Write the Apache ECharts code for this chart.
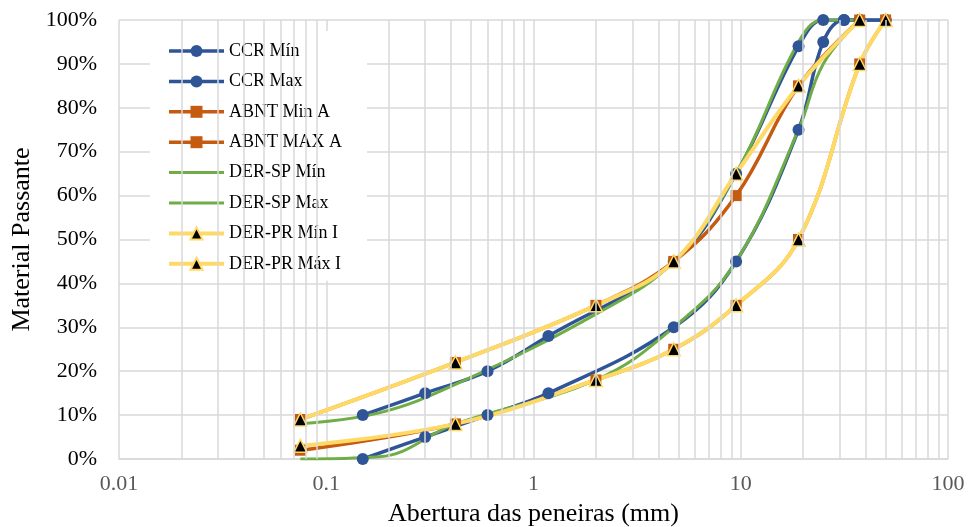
<!DOCTYPE html>
<html>
<head>
<meta charset="utf-8">
<script src="https://cdn.jsdelivr.net/npm/echarts@6/dist/echarts.min.js"></script>
<style>
  html, body { margin: 0; padding: 0; background: #fff; }
  #chart { width: 968px; height: 527px; }
</style>
</head>
<body>
<div id="chart"></div>
<script>
// aberturas das peneiras (mm) e % passante
var ccrSieves = [0.15, 0.3, 0.6, 1.18, 4.75, 9.5, 19, 25, 31.5, 37.5, 50];
var ccrMin = [0, 5, 10, 15, 30, 45, 75, 95, 100, 100, 100];
var ccrMax = [10, 15, 20, 28, 45, 65, 94, 100, 100, 100, 100];

var abntSieves = [0.075, 0.42, 2, 4.75, 9.5, 19, 37.5, 50];
var abntMin = [2, 8, 18, 25, 35, 50, 90, 100];
var abntMax = [9, 22, 35, 45, 60, 85, 100];

var derSpSieves = [0.075, 0.18, 0.42, 2, 4.75, 9.5, 19, 25, 37.5];
var derSpMin = [0, 0.5, 8, 18, 30, 45, 75, 90, 100];
var derSpMax = [8, 10.5, 17, 33, 45, 65, 95, 100, 100];

var derPrSieves = [0.075, 0.42, 2, 4.75, 9.5, 19, 37.5, 50];
var derPrMin = [3, 8, 18, 25, 35, 50, 90, 100];
var derPrMax = [9, 22, 35, 45, 65, 85, 100];

var yTicks = [0, 10, 20, 30, 40, 50, 60, 70, 80, 90, 100];

var blue = '#2F5597', orange = '#C55A11', green = '#70AD47', yellow = '#FFD966';
var gridColor = '#d9d9d9';
var serif = 'Liberation Serif, Times New Roman, serif';

function pairs(xs, ys) {
  var out = [];
  for (var i = 0; i < ys.length; i++) out.push([xs[i], ys[i]]);
  return out;
}

// linhas de grade secundárias (2..9 de cada década)
var minorLines = [];
[0.01, 0.1, 1, 10].forEach(function (d) {
  for (var k = 2; k <= 9; k++) minorLines.push({ xAxis: +(k * d).toPrecision(3) });
});

function lineSeries(name, xs, ys, color, width, symbol, size, extra) {
  var s = {
    name: name,
    type: 'line',
    data: pairs(xs, ys),
    smooth: 0.4,
    symbol: symbol,
    symbolSize: size,
    lineStyle: { color: color, width: width },
    itemStyle: { color: color },
    z: 2
  };
  if (extra) for (var k in extra) s[k] = extra[k];
  return s;
}

var triStyle = { color: '#000', borderColor: yellow, borderWidth: 1.5 };

// itens da legenda (DER-SP sem marcador)
var legendItems = [
  { name: 'CCR Mín', lineStyle: { width: 3.5 } },
  { name: 'CCR Max', lineStyle: { width: 3.5 } },
  { name: 'ABNT Min A', lineStyle: { width: 3.5 } },
  { name: 'ABNT MAX A', lineStyle: { width: 3.5 } },
  { name: 'DER-SP Mín', lineStyle: { width: 3 }, itemStyle: { opacity: 0 } },
  { name: 'DER-SP Max', lineStyle: { width: 3 }, itemStyle: { opacity: 0 } },
  { name: 'DER-PR Mín I', lineStyle: { width: 4 } },
  { name: 'DER-PR Máx I', lineStyle: { width: 4 } }
];

var myChart = echarts.init(document.getElementById('chart'));
var option = {
  animation: false,
  backgroundColor: '#fff',
  grid: { left: 119, right: 20, top: 20, bottom: 68, outerBoundsMode: 'none', containLabel: false },
  legend: {
    data: legendItems,
    orient: 'vertical',
    left: 150,
    top: 31,
    padding: [11, 25, 8, 17],
    backgroundColor: '#fff',
    itemWidth: 55,
    itemHeight: 15,
    itemGap: 12.4,
    textStyle: { fontFamily: serif, fontSize: 18, color: '#000' }
  },
  xAxis: {
    type: 'log',
    logBase: 10,
    min: 0.01,
    max: 100,
    name: 'Abertura das peneiras (mm)',
    nameLocation: 'middle',
    nameGap: 42,
    nameTextStyle: { fontFamily: serif, fontSize: 26, color: '#000' },
    axisLine: { show: true, lineStyle: { color: gridColor, width: 1.5 } },
    axisTick: { show: false },
    axisLabel: { fontFamily: serif, fontSize: 22, color: '#595959', margin: 14 },
    splitLine: { show: true, lineStyle: { color: gridColor, width: 1.5 } },
    minorTick: { show: false },
    minorSplitLine: { show: false }
  },
  yAxis: {
    type: 'value',
    min: yTicks[0],
    max: yTicks[yTicks.length - 1],
    interval: 10,
    name: 'Material Passante',
    nameLocation: 'middle',
    nameGap: 83,
    nameTextStyle: { fontFamily: serif, fontSize: 26, color: '#000' },
    axisLine: { show: false },
    axisTick: { show: false },
    axisLabel: { fontFamily: serif, fontSize: 22, color: '#000', margin: 22, formatter: '{value}%' },
    splitLine: { show: true, lineStyle: { color: gridColor, width: 1.5 } }
  },
  series: [
    {
      name: 'grade',
      type: 'line',
      data: [],
      z: 1,
      silent: true,
      markLine: {
        silent: true,
        symbol: ['none', 'none'],
        label: { show: false },
        lineStyle: { color: gridColor, width: 1.5, type: 'solid' },
        emphasis: { disabled: true },
        data: minorLines
      }
    },
    lineSeries('CCR Mín', ccrSieves, ccrMin, blue, 3.5, 'circle', 12),
    lineSeries('CCR Max', ccrSieves, ccrMax, blue, 3.5, 'circle', 12),
    lineSeries('ABNT Min A', abntSieves, abntMin, orange, 3.5, 'rect', 11),
    lineSeries('ABNT MAX A', abntSieves, abntMax, orange, 3.5, 'rect', 11),
    lineSeries('DER-SP Mín', derSpSieves, derSpMin, green, 3, 'none', 0),
    lineSeries('DER-SP Max', derSpSieves, derSpMax, green, 3, 'none', 0),
    lineSeries('DER-PR Mín I', derPrSieves, derPrMin, yellow, 4, 'triangle', 13, { itemStyle: triStyle }),
    lineSeries('DER-PR Máx I', derPrSieves, derPrMax, yellow, 4, 'triangle', 13, { itemStyle: triStyle })
  ]
};
myChart.setOption(option);
</script>
</body>
</html>
